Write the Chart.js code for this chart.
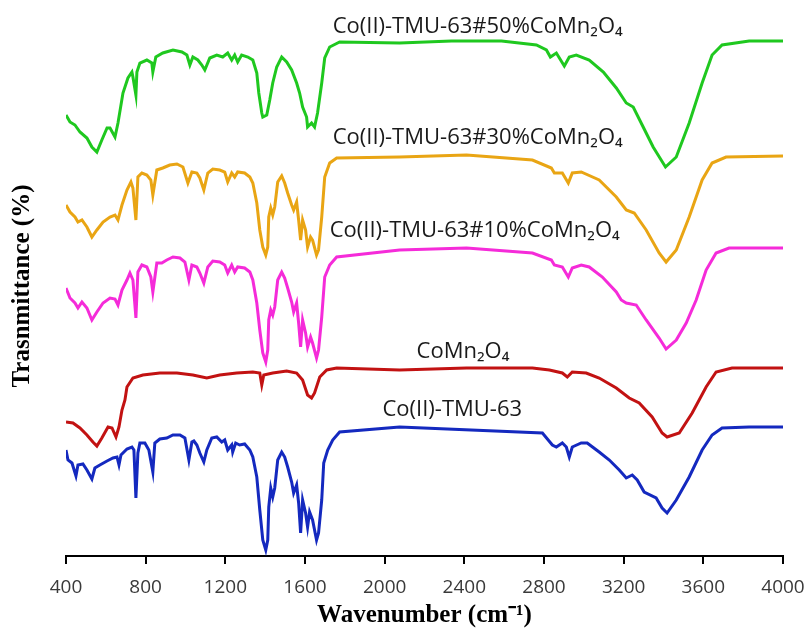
<!DOCTYPE html>
<html>
<head>
<meta charset="utf-8">
<script src="https://cdn.jsdelivr.net/npm/chart.js@4.4.1/dist/chart.umd.min.js"></script>
<style>
  body { margin: 0; background: #fff; }
  #wrap { width: 809px; height: 632px; }
</style>
</head>
<body>
<div id="wrap"><canvas id="myChart"></canvas></div>
<script>
// espectros FTIR, valores leidos a ojo de la figura (transmitancia en unidades arbitrarias, desplazadas)
const xTicks = [400, 800, 1200, 1600, 2000, 2400, 2800, 3200, 3600, 4000];

const seriesNames = [
  "Co(II)-TMU-63#50%CoMn₂O₄",
  "Co(II)-TMU-63#30%CoMn₂O₄",
  "Co(II)-TMU-63#10%CoMn₂O₄",
  "CoMn₂O₄",
  "Co(II)-TMU-63"
];

// 50% CoMn2O4 (verde)
const wn50 = [400, 420, 445, 470, 505, 530, 555, 580, 606, 621, 646, 661, 686, 711, 731, 736, 751, 756, 771, 806, 831, 836, 851, 886, 937, 982, 1007, 1022, 1037, 1062, 1082, 1097, 1122, 1157, 1187, 1212, 1232, 1247, 1262, 1282, 1313, 1338, 1358, 1368, 1383, 1388, 1408, 1423, 1438, 1458, 1483, 1508, 1533, 1558, 1573, 1588, 1608, 1613, 1633, 1648, 1663, 1684, 1699, 1724, 1774, 2075, 2336, 2587, 2762, 2812, 2832, 2862, 2902, 2927, 2962, 3027, 3098, 3163, 3213, 3248, 3298, 3348, 3410, 3464, 3529, 3594, 3644, 3694, 3830, 4000];
const t50 = [441, 434, 431, 424, 418, 409, 404, 416, 428, 428, 419, 433, 463, 478, 484, 479, 461, 484, 493, 496, 493, 484, 499, 503, 506, 504, 501, 491, 499, 496, 491, 486, 498, 501, 499, 503, 496, 501, 494, 501, 499, 496, 483, 463, 443, 439, 441, 456, 473, 489, 499, 494, 486, 473, 463, 449, 439, 429, 433, 429, 443, 473, 498, 509, 514, 513, 515, 515, 511, 506, 499, 503, 490, 499, 501, 496, 484, 468, 453, 449, 429, 409, 389, 399, 433, 473, 501, 511, 515, 515];

// 30% CoMn2O4 (naranja)
const wn30 = [400, 420, 445, 460, 480, 505, 530, 555, 586, 621, 646, 661, 681, 706, 726, 736, 751, 761, 781, 806, 826, 836, 856, 886, 921, 957, 987, 1012, 1032, 1057, 1072, 1092, 1112, 1137, 1172, 1197, 1212, 1232, 1247, 1262, 1297, 1323, 1338, 1358, 1373, 1388, 1403, 1413, 1418, 1428, 1438, 1448, 1463, 1483, 1498, 1513, 1533, 1543, 1558, 1568, 1578, 1588, 1603, 1613, 1628, 1638, 1658, 1668, 1684, 1699, 1724, 1759, 2075, 2411, 2742, 2837, 2852, 2892, 2922, 2942, 2987, 3077, 3163, 3213, 3253, 3313, 3378, 3413, 3464, 3529, 3594, 3644, 3714, 4000];
const t30 = [351, 344, 339, 334, 336, 329, 319, 326, 334, 339, 341, 336, 351, 366, 374, 368, 336, 379, 383, 381, 376, 361, 386, 388, 391, 392, 389, 373, 384, 383, 378, 366, 383, 387, 386, 384, 374, 383, 379, 384, 383, 379, 373, 353, 326, 309, 301, 309, 339, 348, 341, 349, 374, 380, 373, 363, 351, 346, 354, 336, 316, 336, 326, 309, 319, 316, 301, 306, 339, 379, 393, 398, 399, 401, 396, 388, 383, 383, 373, 383, 384, 376, 359, 346, 343, 326, 303, 294, 306, 339, 376, 393, 399, 400];

// 10% CoMn2O4 (magenta)
const wn10 = [400, 420, 445, 460, 480, 505, 530, 555, 586, 621, 646, 661, 681, 706, 721, 736, 751, 761, 781, 806, 826, 836, 856, 881, 906, 937, 972, 997, 1017, 1032, 1057, 1072, 1092, 1112, 1137, 1172, 1197, 1212, 1232, 1247, 1262, 1297, 1323, 1338, 1358, 1373, 1388, 1403, 1413, 1418, 1428, 1438, 1448, 1463, 1483, 1498, 1513, 1533, 1543, 1558, 1568, 1578, 1588, 1603, 1613, 1628, 1638, 1658, 1668, 1684, 1699, 1724, 1759, 2075, 2411, 2742, 2837, 2852, 2892, 2922, 2942, 2987, 3027, 3093, 3163, 3188, 3213, 3263, 3313, 3378, 3413, 3464, 3514, 3564, 3614, 3664, 3729, 4000];
const t10 = [268, 258, 253, 248, 254, 248, 236, 244, 253, 258, 257, 251, 266, 276, 283, 276, 238, 284, 291, 289, 279, 264, 293, 293, 296, 299, 298, 294, 276, 291, 289, 283, 273, 289, 295, 294, 291, 283, 291, 284, 289, 288, 284, 276, 253, 226, 203, 194, 206, 236, 246, 241, 249, 276, 284, 278, 268, 254, 244, 253, 233, 209, 236, 223, 209, 219, 213, 198, 206, 239, 279, 291, 299, 306, 308, 303, 296, 291, 289, 279, 288, 291, 289, 279, 264, 256, 253, 251, 236, 218, 207, 216, 233, 256, 286, 303, 308, 308];

// CoMn2O4 (rojo)
const wnCo = [400, 435, 470, 505, 535, 555, 580, 611, 631, 651, 666, 681, 696, 706, 736, 786, 871, 957, 1037, 1107, 1172, 1257, 1338, 1373, 1383, 1393, 1438, 1508, 1558, 1588, 1613, 1633, 1648, 1674, 1709, 1759, 2075, 2411, 2742, 2827, 2892, 2917, 2942, 3012, 3077, 3163, 3228, 3278, 3343, 3393, 3418, 3479, 3544, 3614, 3664, 3744, 4000];
const tCo = [134, 133, 128, 121, 114, 110, 118, 129, 128, 119, 129, 146, 156, 169, 178, 181, 183, 183, 181, 178, 181, 183, 184, 183, 171, 181, 183, 185, 183, 176, 161, 158, 163, 179, 186, 188, 186, 188, 188, 186, 183, 179, 184, 183, 178, 168, 158, 153, 139, 123, 119, 123, 143, 169, 184, 188, 188];

// Co(II)-TMU-63 (azul)
const wnTmu = [400, 410, 430, 450, 460, 485, 505, 530, 545, 570, 606, 636, 656, 666, 676, 706, 731, 741, 751, 761, 771, 796, 816, 836, 846, 871, 906, 937, 972, 997, 1017, 1032, 1042, 1057, 1072, 1092, 1107, 1132, 1157, 1182, 1197, 1212, 1232, 1237, 1252, 1272, 1297, 1323, 1338, 1358, 1373, 1388, 1403, 1413, 1418, 1428, 1438, 1448, 1463, 1483, 1498, 1513, 1533, 1543, 1558, 1568, 1578, 1588, 1603, 1613, 1623, 1638, 1658, 1668, 1684, 1694, 1714, 1739, 1774, 2075, 2792, 2842, 2862, 2892, 2912, 2927, 2942, 2987, 3017, 3077, 3128, 3178, 3213, 3243, 3268, 3303, 3363, 3393, 3418, 3464, 3529, 3594, 3644, 3694, 3830, 4000];
const tTmu = [106, 96, 93, 80, 91, 92, 86, 77, 88, 91, 95, 98, 99, 91, 101, 107, 109, 106, 58, 103, 113, 113, 106, 84, 113, 117, 118, 121, 121, 118, 96, 114, 115, 111, 103, 94, 106, 118, 119, 114, 116, 106, 111, 104, 113, 111, 112, 106, 99, 79, 46, 16, 6, 16, 49, 68, 59, 68, 96, 104, 99, 89, 74, 63, 71, 53, 23, 56, 43, 29, 44, 36, 16, 23, 56, 93, 106, 116, 124, 129, 123, 111, 109, 113, 109, 99, 109, 113, 113, 104, 96, 86, 78, 81, 76, 64, 58, 48, 43, 56, 79, 106, 121, 128, 129, 129];

// posicion de las etiquetas (numero de onda, transmitancia)
const labelWn = [1739, 1739, 1724, 2160, 1989];
const labelT = [529, 418, 325, 204, 146];

const colores = ["#1fc81f", "#e9a514", "#f52bd9", "#c21212", "#1429bf"];

const wnList = [wn50, wn30, wn10, wnCo, wnTmu];
const tList = [t50, t30, t10, tCo, tTmu];

function puntos(wn, t) {
  return wn.map((x, i) => ({ x: x, y: t[i] }));
}

// plugin para escribir el nombre de cada espectro
const etiquetas = {
  id: "etiquetas",
  afterDatasetsDraw(chart) {
    const ctx = chart.ctx;
    const sx = chart.scales.x, sy = chart.scales.y;
    ctx.save();
    ctx.font = "22px 'Open Sans'";
    ctx.fillStyle = "#1a1a1a";
    ctx.textAlign = "left";
    ctx.textBaseline = "middle";
    for (let i = 0; i < seriesNames.length; i++) {
      ctx.fillText(seriesNames[i], sx.getPixelForValue(labelWn[i]), sy.getPixelForValue(labelT[i]));
    }
    ctx.restore();
  }
};

const graficar = document.getElementById("myChart").getContext("2d");
const myChart = new Chart(graficar, {
  type: "line",
  data: {
    datasets: seriesNames.map((n, i) => ({
      label: n,
      data: puntos(wnList[i], tList[i]),
      borderColor: colores[i],
      borderWidth: 3,
      pointRadius: 0,
      tension: 0,
      fill: false
    }))
  },
  options: {
    responsive: true,
    maintainAspectRatio: false,
    animation: false,
    layout: { padding: { top: 16, right: 26, left: 0, bottom: 0 } },
    plugins: { legend: { display: false }, tooltip: { enabled: false } },
    scales: {
      x: {
        type: "linear",
        min: 400,
        max: 4000,
        // altura fija del eje y sin margen extra por la etiqueta 4000
        afterFit(scale) {
          scale.height = 76;
          scale.paddingLeft = 0;
          scale.paddingRight = 0;
        },
        afterBuildTicks(scale) { scale.ticks = xTicks.map(v => ({ value: v })); },
        grid: { display: true, drawOnChartArea: false, drawTicks: true, tickLength: 8, color: "#000", lineWidth: 2 },
        border: { display: true, color: "#000", width: 2 },
        ticks: {
          color: "#3a3a3a",
          padding: 12,
          maxRotation: 0,
          font: { family: "'Open Sans'", size: 19 },
          callback: v => String(v)
        },
        title: {
          display: true,
          text: "Wavenumber (cm⁻¹)",
          color: "#000",
          padding: { top: 0, bottom: 1 },
          font: { family: "'Liberation Serif'", size: 25, weight: "bold" }
        }
      },
      y: {
        type: "linear",
        min: 0,
        max: 540,
        afterFit(scale) { scale.width = 66; },
        grid: { display: false },
        border: { display: false },
        ticks: { display: false },
        title: {
          display: true,
          text: "Trasnmittance (%)",
          color: "#000",
          padding: { top: 8, bottom: 0 },
          font: { family: "'Liberation Serif'", size: 25, weight: "bold" }
        }
      }
    }
  },
  plugins: [etiquetas]
});
</script>
</body>
</html>
